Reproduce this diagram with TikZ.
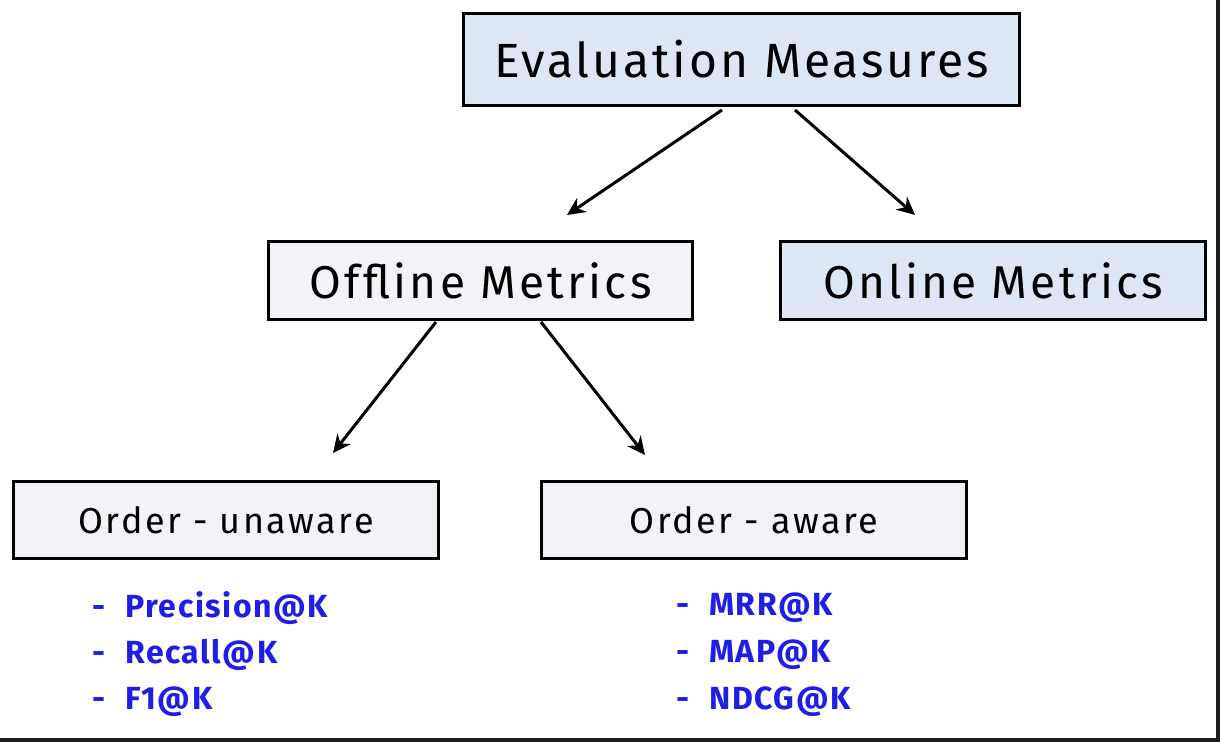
\documentclass[tikz,border=0pt]{standalone}
\usepackage{fontspec}
\setmainfont{Fira Sans}
\usetikzlibrary{arrows.meta}
\definecolor{boxblue}{HTML}{DDE7F4}
\definecolor{boxgrey}{HTML}{F1F3F7}
\definecolor{listblue}{HTML}{1E1EE6}
\definecolor{frame}{HTML}{1E1E1E}
\newcommand{\spaced}[2]{\fontsize{#1}{#1}\selectfont\addfontfeature{LetterSpace=#2}}
\begin{document}
\begin{tikzpicture}[x=1pt,y=-1pt,
  box/.style={draw=black,line width=3pt,inner sep=0pt,anchor=north west},
  link/.style={line width=3pt,-{Stealth[length=18pt,width=17pt]}},
  item/.style={anchor=west,text=listblue,font=\bfseries\spaced{32}{5},inner sep=0pt}]
\useasboundingbox (0,0) rectangle (1220,742);
\fill[white] (0,0) rectangle (1220,742);
% frame along the right and bottom edges
\fill[frame] (1216,0) rectangle (1220,742);
\fill[frame] (0,738) rectangle (1220,742);

% boxes
\node[box,fill=boxblue,minimum width=556pt,minimum height=92pt,font=\spaced{48}{6}] (eval) at (462,12) {Evaluation Measures};
\node[box,fill=boxgrey,minimum width=424pt,minimum height=78pt,font=\spaced{46}{7}] (off) at (267,240) {Offline Metrics};
\node[box,fill=boxblue,minimum width=425pt,minimum height=78pt,font=\spaced{46}{7}] (on) at (779,240) {Online Metrics};
\node[box,fill=boxgrey,minimum width=425pt,minimum height=77pt,font=\spaced{36}{7}] (unaware) at (12,480) {Order - unaware};
\node[box,fill=boxgrey,minimum width=425pt,minimum height=77pt,font=\spaced{36}{7}] (aware) at (540,480) {Order - aware};

% arrow end points
\coordinate (e1) at (722,110); \coordinate (t1) at (567,215);
\coordinate (e2) at (795,110); \coordinate (t2) at (915,215);
\coordinate (o1) at (436,322); \coordinate (t3) at (333,453);
\coordinate (o2) at (541,322); \coordinate (t4) at (645,455);
\draw[link] (e1) -- (t1);
\draw[link] (e2) -- (t2);
\draw[link] (o1) -- (t3);
\draw[link] (o2) -- (t4);

% metric lists
\node[item] (p1) at (92,608) {-\hspace{20pt}Precision@K};
\node[item] (p2) at (92,655) {-\hspace{20pt}Recall@K};
\node[item] (p3) at (92,702) {-\hspace{20pt}F1@K};
\node[item] (q1) at (676,608) {-\hspace{20pt}MRR@K};
\node[item] (q2) at (676,655) {-\hspace{20pt}MAP@K};
\node[item] (q3) at (676,702) {-\hspace{20pt}NDCG@K};
\end{tikzpicture}
\end{document}
